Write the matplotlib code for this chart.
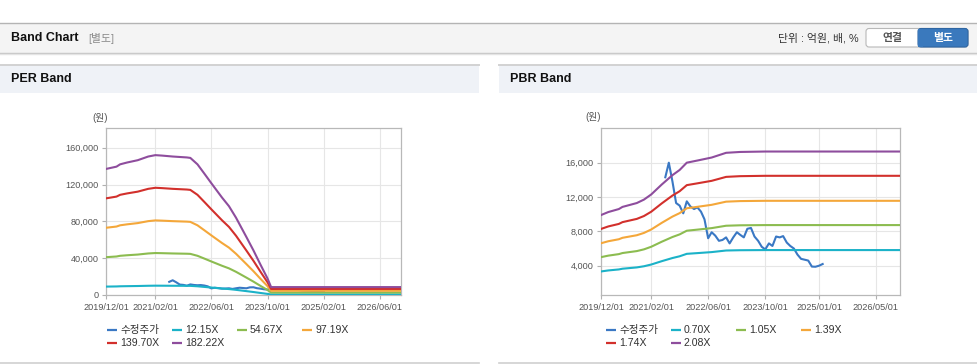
import matplotlib
matplotlib.use("Agg")
import matplotlib.pyplot as plt
import matplotlib.dates as mdates
from matplotlib.patches import Rectangle, FancyBboxPatch
from matplotlib.ticker import FuncFormatter
import pandas as pd

plt.rcParams["font.family"] = ["Liberation Sans", "Noto Sans CJK KR"]

W, H = 978, 364

# ---- data ----
price_dates = pd.date_range("2021-06-01", "2025-02-01", freq="MS")
price = [14300, 16000, 13800, 11300, 11000, 10100, 11500, 10900, 10600, 10800,
         10300, 9400, 7200, 7900, 7500, 6900, 7000, 7300, 6600, 7300,
         7900, 7600, 7300, 8300, 8400, 7400, 6900, 6200, 5900, 6600,
         6300, 7400, 7300, 7450, 6700, 6300, 6000, 5300, 4800, 4700,
         4600, 3900, 3880, 4000, 4200]

per_dates = pd.to_datetime([
    "2019-12-01", "2020-03-01", "2020-04-01", "2020-06-01", "2020-09-01",
    "2020-12-01", "2021-02-01", "2021-04-01", "2021-07-01", "2021-11-01",
    "2021-12-01", "2022-02-01", "2022-04-01", "2022-06-01", "2022-09-01",
    "2022-11-01", "2023-01-01", "2023-04-01", "2023-06-01", "2023-08-01",
    "2023-10-01", "2023-11-01", "2026-12-01"])
per_12_15 = [9135, 9300, 9470, 9600, 9770, 10035, 10135, 10100, 10035, 9970,
             9935, 9470, 8800, 8100, 7070, 6435, 5600, 4200, 3235, 2200,
             1200, 573, 573]
per_54_67 = [41100, 41850, 42600, 43200, 43950, 45150, 45600, 45450, 45150, 44850,
             44700, 42600, 39600, 36450, 31800, 28950, 25200, 18900, 14550, 9900,
             5400, 2580, 2580]
per_97_19 = [73070, 74400, 75740, 76800, 78140, 80270, 81070, 80800, 80270, 79740,
             79470, 75740, 70400, 64800, 56540, 51470, 44800, 33600, 25870, 17600,
             9600, 4587, 4587]
per_139_70 = [105030, 106950, 108870, 110400, 112320, 115380, 116530, 116150, 115380, 114620,
              114230, 108870, 101200, 93150, 81270, 73980, 64400, 48300, 37180, 25300,
              13800, 6593, 6593]
per_182_22 = [137000, 139500, 142000, 144000, 146500, 150500, 152000, 151500, 150500, 149500,
              149000, 142000, 132000, 121500, 106000, 96500, 84000, 63000, 48500, 33000,
              18000, 8600, 8600]
per_labels = ["수정주가", "12.15X", "54.67X", "97.19X", "139.70X", "182.22X"]

pbr_dates = pd.to_datetime([
    "2019-12-01", "2020-02-01", "2020-05-01", "2020-06-01", "2020-10-01",
    "2020-12-01", "2021-02-01", "2021-05-01", "2021-08-01", "2021-10-01",
    "2021-12-01", "2022-03-01", "2022-07-01", "2022-11-01", "2023-03-01",
    "2023-10-01", "2026-12-01"])
pbr_0_70 = [3332, 3450, 3567, 3651, 3803, 3937, 4139, 4526, 4897, 5099,
            5385, 5469, 5587, 5772, 5805, 5822, 5822]
pbr_1_05 = [4998, 5174, 5351, 5477, 5704, 5906, 6209, 6790, 7345, 7648,
            8077, 8203, 8380, 8657, 8708, 8733, 8733]
pbr_1_39 = [6616, 6850, 7084, 7251, 7551, 7819, 8220, 8988, 9723, 10124,
            10692, 10859, 11093, 11461, 11528, 11561, 11561]
pbr_1_74 = [8282, 8575, 8867, 9076, 9453, 9788, 10290, 11251, 12172, 12674,
            13385, 13594, 13887, 14347, 14430, 14472, 14472]
pbr_2_08 = [9900, 10250, 10600, 10850, 11300, 11700, 12300, 13450, 14550, 15150,
            16000, 16250, 16600, 17150, 17250, 17300, 17300]
pbr_labels = ["수정주가", "0.70X", "1.05X", "1.39X", "1.74X", "2.08X"]

colors = ["#3a78c4", "#1bb2c8", "#8cbc50", "#f4a73a", "#d2302c", "#8e4d9d"]

per_xticks = ["2019-12-01", "2021-02-01", "2022-06-01", "2023-10-01", "2025-02-01", "2026-06-01"]
pbr_xticks = ["2019-12-01", "2021-02-01", "2022-06-01", "2023-10-01", "2025-01-01", "2026-05-01"]
per_yticks = [0, 40000, 80000, 120000, 160000]
pbr_yticks = [4000, 8000, 12000, 16000]


def draw_chart(ax, band_dates, bands, xticks, xlim, ylim, yticks):
    ax.plot(price_dates, price, color=colors[0], lw=1.5, zorder=2)
    for vals, c in zip(bands, colors[1:]):
        ax.plot(band_dates, vals, color=c, lw=1.5, zorder=3)
    ax.set_xlim(pd.Timestamp(xlim[0]), pd.Timestamp(xlim[1]))
    ax.set_ylim(*ylim)
    ax.set_xticks(pd.to_datetime(xticks))
    ax.xaxis.set_major_formatter(mdates.DateFormatter("%Y/%m/%d"))
    ax.set_yticks(yticks)
    ax.yaxis.set_major_formatter(FuncFormatter(lambda v, p: f"{v:,.0f}"))
    ax.grid(True, color="#e6e6e6", lw=0.8)
    ax.set_axisbelow(True)
    for s in ax.spines.values():
        s.set_color("#b8b8b8")
        s.set_linewidth(0.9)
    ax.tick_params(length=3, width=0.8, color="#b0b0b0", pad=2.5,
                   labelsize=6.6, labelcolor="#555555")


def legend(bg, x0, labels):
    for i, lab in enumerate(labels):
        x = x0 + (i % 4) * 65
        y = 330 + (i // 4) * 13
        bg.plot([x, x + 10], [y, y], color=colors[i], lw=1.6, solid_capstyle="butt")
        bg.text(x + 13, y, lab, fontsize=7.6, color="#333333", va="center", ha="left")


fig = plt.figure(figsize=(W / 100, H / 100), dpi=100)
bg = fig.add_axes([0, 0, 1, 1], zorder=0)
bg.set_xlim(0, W)
bg.set_ylim(H, 0)
bg.axis("off")

# header bar
bg.add_patch(Rectangle((0, 22.5), W, 30.5, facecolor="#f4f4f4", edgecolor="none"))
bg.plot([0, W], [22.5, 22.5], color="#b4b4b4", lw=1)
bg.plot([0, W], [53, 53], color="#c4c4c4", lw=1)
bg.plot([0, W], [54.2, 54.2], color="#e4e4e4", lw=1)
bg.text(11, 38, "Band Chart", fontsize=9, weight="bold", color="#111111", va="center")
bg.text(88, 38.5, "[별도]", fontsize=7.8, color="#8a8a8a", va="center")
bg.text(859, 38.5, "단위 : 억원, 배, %", fontsize=7.8, color="#333333", va="center", ha="right")
bg.add_patch(FancyBboxPatch((866, 28.5), 102, 18.5, boxstyle="round,pad=0,rounding_size=3",
                            facecolor="white", edgecolor="#b8b8b8", lw=0.8))
bg.add_patch(FancyBboxPatch((918, 28.5), 50, 18.5, boxstyle="round,pad=0,rounding_size=3",
                            facecolor="#3a79bd", edgecolor="#2f66a3", lw=0.8))
bg.add_patch(Rectangle((918, 28.5), 5, 18.5, facecolor="#3a79bd", edgecolor="none"))
bg.text(892, 38, "연결", fontsize=7.8, weight="bold", color="#555555", ha="center", va="center")
bg.text(943, 38, "별도", fontsize=7.8, weight="bold", color="white", ha="center", va="center")

# panel title bars
for x0, x1, title in [(0, 479, "PER Band"), (499, W, "PBR Band")]:
    bg.add_patch(Rectangle((x0, 64.5), x1 - x0, 28.5, facecolor="#eff2f7", edgecolor="none"))
    bg.plot([x0, x1], [64.5, 64.5], color="#d2d2d2", lw=1.4)
    bg.plot([x0, x1], [362.5, 362.5], color="#cfcfcf", lw=1.2)
    bg.text(x0 + 11, 79.5, title, fontsize=9, weight="bold", color="#111111", va="center")

bg.text(92, 118, "(원)", fontsize=7, color="#555555", va="center")
bg.text(585, 117, "(원)", fontsize=7, color="#555555", va="center")

legend(bg, 107, per_labels)
legend(bg, 606, pbr_labels)

ax1 = fig.add_axes([106 / W, 69 / H, 295 / W, 167 / H], zorder=1)
draw_chart(ax1, per_dates, [per_12_15, per_54_67, per_97_19, per_139_70, per_182_22],
           per_xticks, ("2019-12-01", "2026-12-01"), (0, 181500), per_yticks)

ax2 = fig.add_axes([601 / W, 69 / H, 299 / W, 167 / H], zorder=1)
draw_chart(ax2, pbr_dates, [pbr_0_70, pbr_1_05, pbr_1_39, pbr_1_74, pbr_2_08],
           pbr_xticks, ("2019-12-01", "2026-11-22"), (590, 20040), pbr_yticks)

fig.savefig("out.png", dpi=100)
